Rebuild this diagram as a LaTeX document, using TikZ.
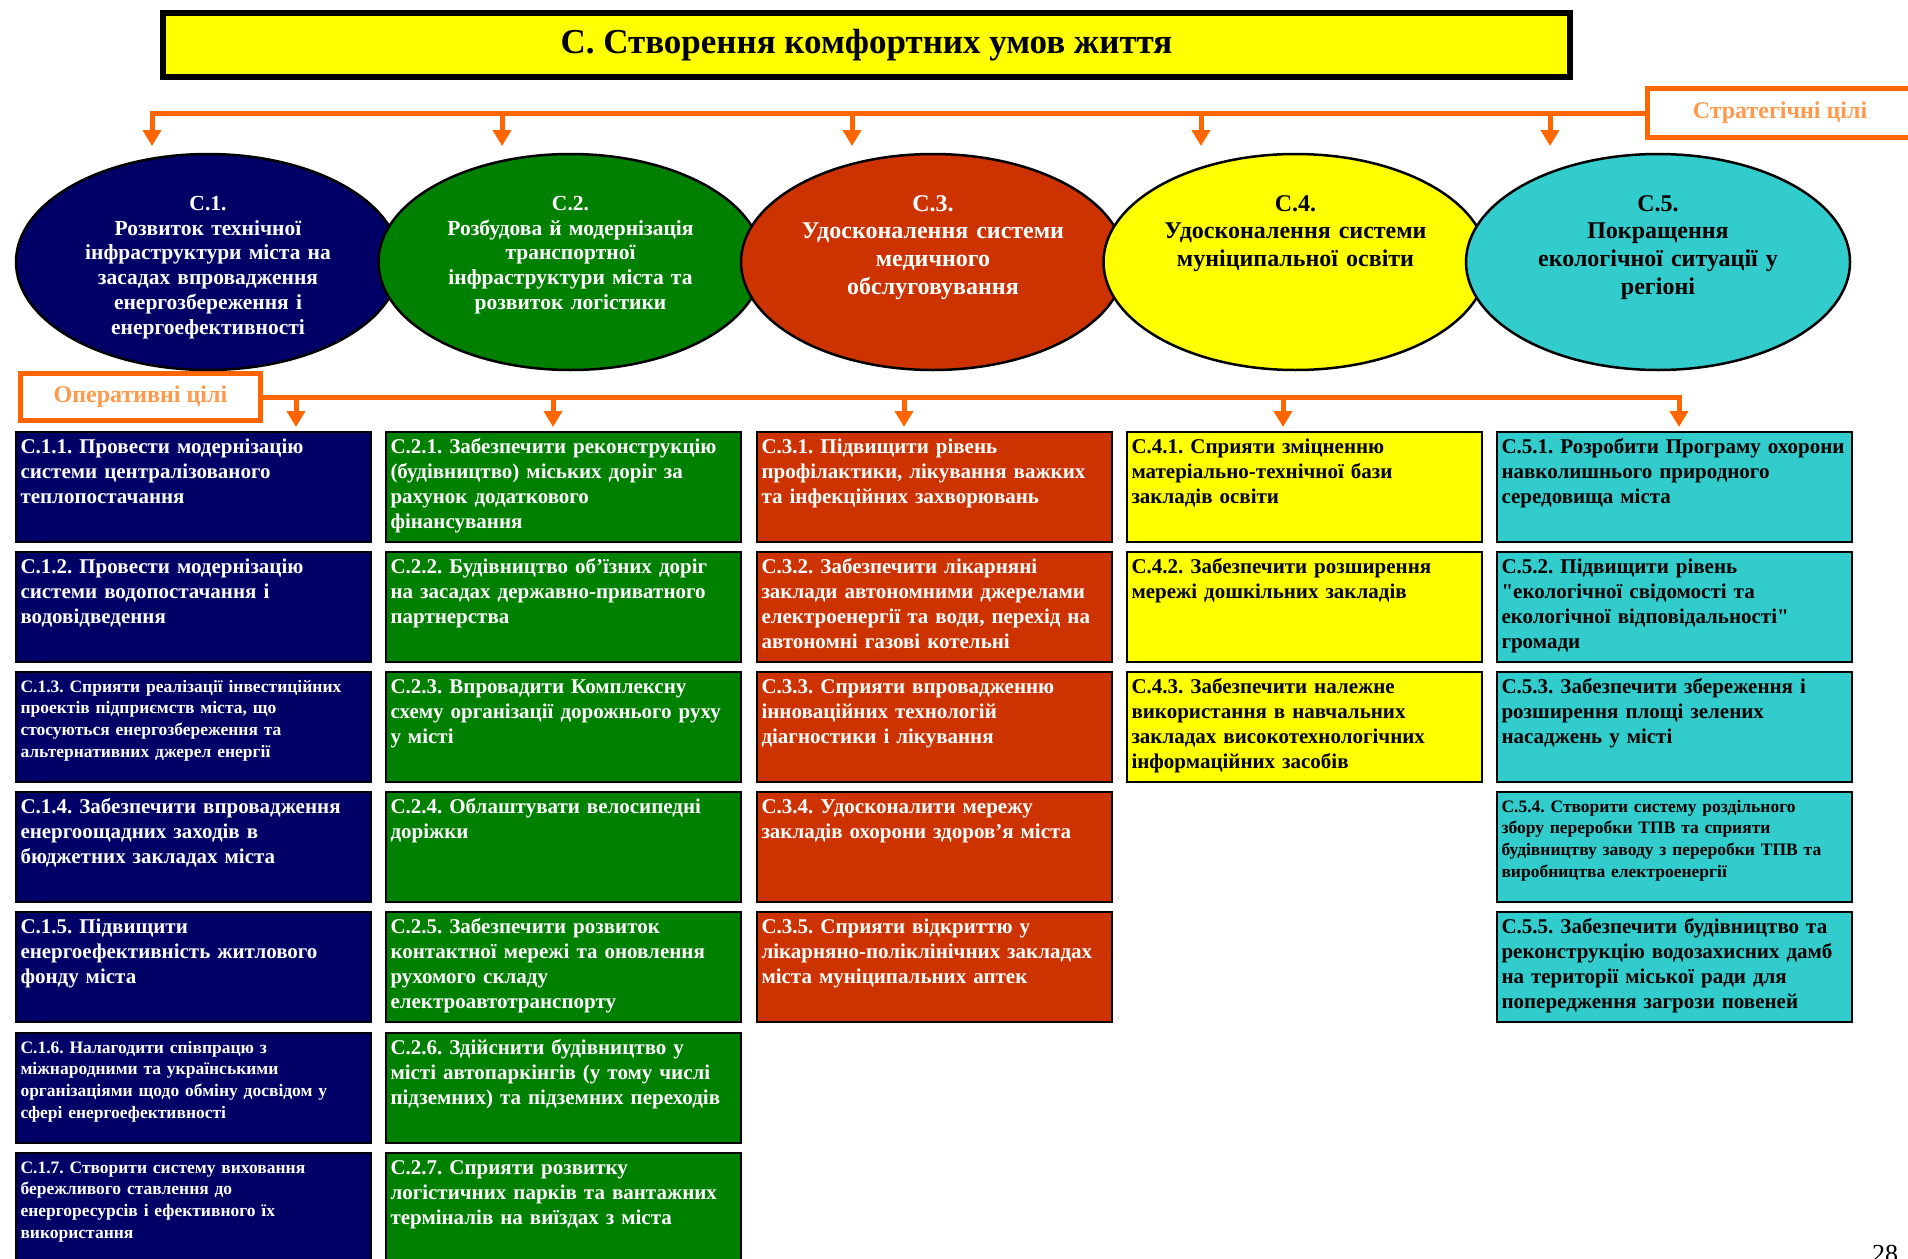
\documentclass[tikz,border=0pt]{standalone}
\usepackage{fontspec}
\setmainfont{Liberation Serif}
\usetikzlibrary{shapes.geometric,arrows.meta}
\frenchspacing
\definecolor{cnavy}{HTML}{000066}
\definecolor{cgreen}{HTML}{008000}
\definecolor{cred}{HTML}{CC3300}
\definecolor{cyell}{HTML}{FFFF00}
\definecolor{ccyan}{HTML}{33CCCC}
\definecolor{orline}{HTML}{FF6600}
\definecolor{labtext}{HTML}{FF9A4D}
\tikzset{
  obox/.style={draw=black, line width=2pt, anchor=north west, text width=346pt,
    inner xsep=4.5pt, inner ysep=7pt, text height=14pt, text depth=82pt, align=left,
    font=\bfseries\fontsize{21}{25.3}\selectfont},
  smalltext/.style={text height=13pt, text depth=83pt,
    font=\bfseries\fontsize{17.5}{21.7}\selectfont},
  bnavy/.style={fill=cnavy, text=white},
  bgreen/.style={fill=cgreen, text=white},
  bred/.style={fill=cred, text=white},
  byell/.style={fill=cyell, text=black},
  bcyan/.style={fill=ccyan, text=black},
  ell/.style={ellipse, draw=black, line width=2.5pt, minimum width=384pt, minimum height=216pt, inner sep=0pt},
  etext/.style={anchor=north, text width=330pt, align=center, inner sep=0pt, text height=16pt},
  ebig/.style={font=\bfseries\fontsize{21.5}{24.8}\selectfont},
  ehuge/.style={font=\bfseries\fontsize{24}{27.6}\selectfont},
  lab/.style={draw=orline, line width=5pt, fill=white, text=labtext, inner sep=0pt,
    font=\bfseries\fontsize{24}{28}\selectfont},
  ora/.style={draw=orline, line width=5pt, -{Triangle[width=18pt,length=16pt]}},
}
\begin{document}
\begin{tikzpicture}[x=1pt,y=-1pt]
\fill[white] (0,0) rectangle (1908,1258);
\useasboundingbox (0,0) rectangle (1908,1258);

% title
\node[draw=black, line width=6pt, fill=cyell, minimum width=1407pt, minimum height=64pt,
  font=\bfseries\fontsize{35}{40}\selectfont] (title) at (866.5,45) {С. Створення комфортних умов життя};

% labels
\node[lab, minimum width=265pt, minimum height=49pt] (strat) at (1780,113) {Стратегічні цілі};
\node[lab, minimum width=240pt, minimum height=47pt] (oper) at (140.5,397) {Оперативні цілі};

% ellipses
\node[ell, fill=cnavy] (e1) at (208,262) {};
\node[ell, fill=cgreen] (e2) at (570.5,262) {};
\node[ell, fill=cred] (e3) at (933,262) {};
\node[ell, fill=cyell] (e4) at (1295.5,262) {};
\node[ell, fill=ccyan] (e5) at (1658,262) {};

\node[etext, ebig, text=white] (t1) at (e1.center |- 0,194) {C.1.\\Розвиток технічної\\інфраструктури міста на\\засадах впровадження\\енергозбереження і\\енергоефективності};
\node[etext, ebig, text=white] (t2) at (e2.center |- 0,194) {C.2.\\Розбудова й модернізація\\транспортної\\інфраструктури міста та\\розвиток логістики};
\node[etext, ehuge, text=white] (t3) at (e3.center |- 0,195) {C.3.\\Удосконалення системи\\медичного\\обслуговування};
\node[etext, ehuge, text=black] (t4) at (e4.center |- 0,195) {C.4.\\Удосконалення системи\\муніципальної освіти};
\node[etext, ehuge, text=black] (t5) at (e5.center |- 0,195) {C.5.\\Покращення\\екологічної ситуації у\\регіоні};

% strategic arrows
\coordinate (s1) at (152,146);
\coordinate (s2) at (502,146);
\coordinate (s3) at (852,146);
\coordinate (s4) at (1201,146);
\coordinate (s5) at (1550,146);
\draw[ora] (strat.west) -| (s1);
\foreach \s in {s2,s3,s4,s5} \draw[ora] (\s |- strat.west) -- (\s);

% operational arrows
\coordinate (o1) at (296,427);
\coordinate (o2) at (553,427);
\coordinate (o3) at (904,427);
\coordinate (o4) at (1283,427);
\coordinate (o5) at (1679,427);
\draw[ora] (oper.east) -| (o5);
\foreach \o in {o1,o2,o3,o4} \draw[ora] (\o |- oper.east) -- (\o);

% column 1
\node[obox,bnavy] (b11) at (15,431) {C.1.1. Провести модернізацію\\системи централізованого\\теплопостачання};
\node[obox,bnavy] (b12) at (15,551) {C.1.2. Провести модернізацію\\системи водопостачання і\\водовідведення};
\node[obox,bnavy,smalltext] (b13) at (15,671) {C.1.3. Сприяти реалізації інвестиційних\\проектів підприємств міста, що\\стосуються енергозбереження та\\альтернативних джерел енергії};
\node[obox,bnavy] (b14) at (15,791) {C.1.4. Забезпечити впровадження\\енергоощадних заходів в\\бюджетних закладах міста};
\node[obox,bnavy] (b15) at (15,911) {C.1.5. Підвищити\\енергоефективність житлового\\фонду міста};
\node[obox,bnavy,smalltext] (b16) at (15,1032) {C.1.6. Налагодити співпрацю з\\міжнародними та українськими\\організаціями щодо обміну досвідом у\\сфері енергоефективності};
\node[obox,bnavy,smalltext] (b17) at (15,1152) {C.1.7. Створити систему виховання\\бережливого ставлення до\\енергоресурсів і ефективного їх\\використання};

% column 2
\node[obox,bgreen] (b21) at (385,431) {C.2.1. Забезпечити реконструкцію\\(будівництво) міських доріг за\\рахунок додаткового\\фінансування};
\node[obox,bgreen] (b22) at (385,551) {C.2.2. Будівництво об’їзних доріг\\на засадах державно-приватного\\партнерства};
\node[obox,bgreen] (b23) at (385,671) {C.2.3. Впровадити Комплексну\\схему організації дорожнього руху\\у місті};
\node[obox,bgreen] (b24) at (385,791) {C.2.4. Облаштувати велосипедні\\доріжки};
\node[obox,bgreen] (b25) at (385,911) {C.2.5. Забезпечити розвиток\\контактної мережі та оновлення\\рухомого складу\\електроавтотранспорту};
\node[obox,bgreen] (b26) at (385,1032) {C.2.6. Здійснити будівництво у\\місті автопаркінгів (у тому числі\\підземних) та підземних переходів};
\node[obox,bgreen] (b27) at (385,1152) {C.2.7. Сприяти розвитку\\логістичних парків та вантажних\\терміналів на виїздах з міста};

% column 3
\node[obox,bred] (b31) at (756,431) {C.3.1. Підвищити рівень\\профілактики, лікування важких\\та інфекційних захворювань};
\node[obox,bred] (b32) at (756,551) {C.3.2. Забезпечити лікарняні\\заклади автономними джерелами\\електроенергії та води, перехід на\\автономні газові котельні};
\node[obox,bred] (b33) at (756,671) {C.3.3. Сприяти впровадженню\\інноваційних технологій\\діагностики і лікування};
\node[obox,bred] (b34) at (756,791) {C.3.4. Удосконалити мережу\\закладів охорони здоров’я міста};
\node[obox,bred] (b35) at (756,911) {C.3.5. Сприяти відкриттю у\\лікарняно-поліклінічних закладах\\міста муніципальних аптек};

% column 4
\node[obox,byell] (b41) at (1126,431) {C.4.1. Сприяти зміцненню\\матеріально-технічної бази\\закладів освіти};
\node[obox,byell] (b42) at (1126,551) {C.4.2. Забезпечити розширення\\мережі дошкільних закладів};
\node[obox,byell] (b43) at (1126,671) {C.4.3. Забезпечити належне\\використання в навчальних\\закладах високотехнологічних\\інформаційних засобів};

% column 5
\node[obox,bcyan] (b51) at (1496,431) {C.5.1. Розробити Програму охорони\\навколишнього природного\\середовища міста};
\node[obox,bcyan] (b52) at (1496,551) {C.5.2. Підвищити рівень\\\textquotedbl екологічної свідомості та\\екологічної відповідальності\textquotedbl\\громади};
\node[obox,bcyan] (b53) at (1496,671) {C.5.3. Забезпечити збереження і\\розширення площі зелених\\насаджень у місті};
\node[obox,bcyan,smalltext] (b54) at (1496,791) {C.5.4. Створити систему роздільного\\збору переробки ТПВ та сприяти\\будівництву заводу з переробки ТПВ та\\виробництва електроенергії};
\node[obox,bcyan] (b55) at (1496,911) {C.5.5. Забезпечити будівництво та\\реконструкцію водозахисних дамб\\на території міської ради для\\попередження загрози повеней};

% page number
\node[anchor=north west, inner sep=0pt, font=\fontsize{26}{30}\selectfont] (pg) at (1872,1245) {28};
\end{tikzpicture}
\end{document}
